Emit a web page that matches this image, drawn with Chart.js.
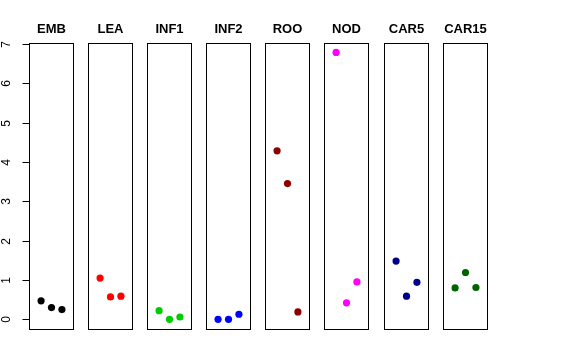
<!DOCTYPE html>
<html>
<head>
<meta charset="utf-8">
<script src="https://cdn.jsdelivr.net/npm/chart.js@4"></script>
<style>
  body { margin: 0; background: #fff; }
  #wrap { position: relative; width: 576px; height: 360px; }
  #wrap canvas { position: absolute; top: 0; }
</style>
</head>
<body>
<div id="wrap"></div>
<script>
// panel names, colours and values
let panels = ["EMB", "LEA", "INF1", "INF2", "ROO", "NOD", "CAR5", "CAR15"];
let colors = ["#000000", "#FF0000", "#00CD00", "#0000FF", "#8B0000", "#FF00FF", "#00008B", "#006400"];
let sampleX = [1, 2, 3];

let valuesEMB = [0.47, 0.30, 0.25];
let valuesLEA = [1.05, 0.57, 0.59];
let valuesINF1 = [0.22, 0.00, 0.06];
let valuesINF2 = [0.00, 0.00, 0.13];
let valuesROO = [4.28, 3.45, 0.19];
let valuesNOD = [6.78, 0.42, 0.95];
let valuesCAR5 = [1.48, 0.59, 0.94];
let valuesCAR15 = [0.80, 1.19, 0.81];
let allValues = [valuesEMB, valuesLEA, valuesINF1, valuesINF2, valuesROO, valuesNOD, valuesCAR5, valuesCAR15];

let yTicks = [0, 1, 2, 3, 4, 5, 6, 7];

// layout
let panelLefts = [29, 88, 147, 206, 265, 324, 384, 443];
let panelW = 45;
let axisW = 29;

let boxPlugin = {
    id: "box",
    afterDraw(chart) {
        let ctx = chart.ctx;
        let a = chart.chartArea;
        ctx.save();
        ctx.strokeStyle = "#000";
        ctx.lineWidth = 1;
        ctx.strokeRect(Math.round(a.left) + 0.5, Math.round(a.top) + 0.5, Math.round(a.width) - 1, Math.round(a.height) - 1);
        ctx.restore();
    }
};

let axisPlugin = {
    id: "yaxis",
    afterDraw(chart) {
        let ctx = chart.ctx;
        let a = chart.chartArea;
        let y = chart.scales.y;
        let x0 = Math.round(a.left) + 0.5;
        ctx.save();
        ctx.strokeStyle = "#000";
        ctx.fillStyle = "#000";
        ctx.lineWidth = 1;
        ctx.beginPath();
        ctx.moveTo(x0, Math.round(y.getPixelForValue(yTicks[0])) + 0.5);
        ctx.lineTo(x0, Math.round(y.getPixelForValue(yTicks[yTicks.length - 1])) + 0.5);
        ctx.stroke();
        ctx.font = "12px 'Liberation Sans', Arial, sans-serif";
        ctx.textAlign = "center";
        ctx.textBaseline = "middle";
        yTicks.forEach(function(t) {
            let py = Math.round(y.getPixelForValue(t)) + 0.5;
            ctx.beginPath();
            ctx.moveTo(x0 - 7, py);
            ctx.lineTo(x0, py);
            ctx.stroke();
            ctx.save();
            ctx.translate(7, py);
            ctx.rotate(-Math.PI / 2);
            ctx.fillText(String(t), 0, 0);
            ctx.restore();
        });
        ctx.restore();
    }
};

let wrap = document.getElementById("wrap");

for (let i = 0; i < panels.length; i++) {
    let first = i === 0;
    let cv = document.createElement("canvas");
    let w = first ? panelW + axisW : panelW;
    cv.width = w;
    cv.height = 340;
    cv.style.left = (first ? 0 : panelLefts[i]) + "px";
    cv.style.width = w + "px";
    cv.style.height = "340px";
    wrap.appendChild(cv);

    let pts = sampleX.map(function(x, j) { return { x: x, y: allValues[i][j] }; });

    new Chart(cv.getContext("2d"), {
        type: "scatter",
        data: {
            datasets: [{
                data: pts,
                backgroundColor: colors[i],
                borderWidth: 0,
                pointRadius: 3.6,
                pointHoverRadius: 3.6
            }]
        },
        options: {
            responsive: false,
            animation: false,
            layout: { autoPadding: false, padding: { left: first ? axisW : 0, top: 0, right: 0, bottom: 10 } },
            plugins: {
                legend: { display: false },
                tooltip: { enabled: false },
                title: {
                    display: true,
                    text: panels[i],
                    color: "#000",
                    font: { family: "'Liberation Sans', Arial, sans-serif", size: 13, weight: "bold", lineHeight: "16px" },
                    padding: { top: 21, bottom: 6 }
                }
            },
            scales: {
                x: { type: "linear", min: -0.16, max: 4.16, display: false },
                y: { min: -0.27, max: 7.02, display: false }
            }
        },
        plugins: first ? [boxPlugin, axisPlugin] : [boxPlugin]
    });
}
</script>
</body>
</html>
